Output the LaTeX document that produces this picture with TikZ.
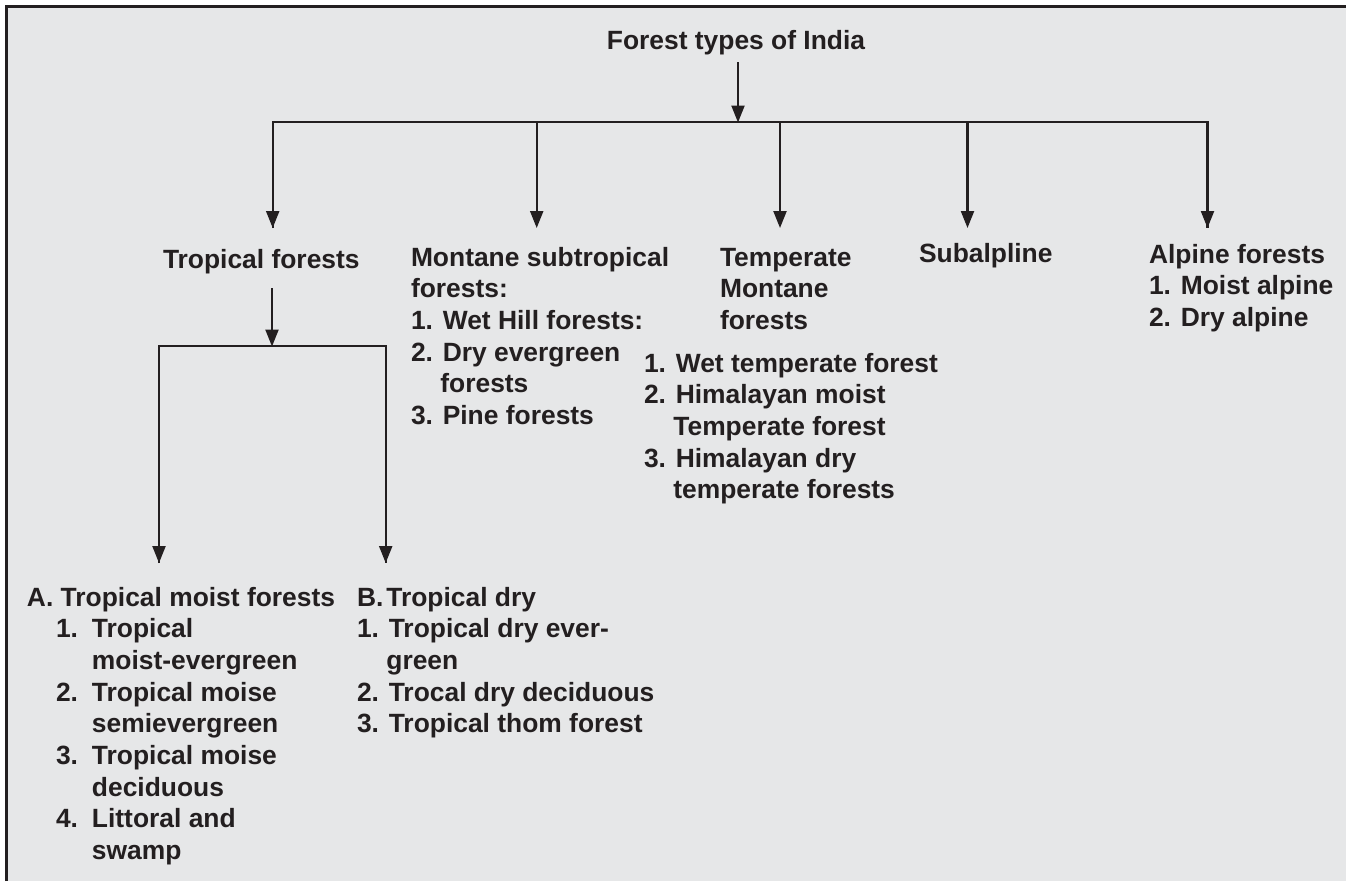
\documentclass[tikz,border=0pt]{standalone}
\usepackage{fontspec}
\setmainfont{Liberation Sans}
\usetikzlibrary{arrows.meta}
\definecolor{ink}{HTML}{231F20}
\definecolor{bg}{HTML}{E6E7E8}
\tikzset{
  lbl/.style={anchor=base west, inner sep=0pt, outer sep=0pt, text=ink,
    font=\fontsize{26.4}{31.7}\selectfont\bfseries},
  conn/.style={draw=ink, line width=2.2pt},
  arr/.style={conn, -{Triangle[length=17pt,width=13pt]}},
  frame/.style={draw=ink, line width=2.6pt, line join=miter}
}
\newcommand{\blk}[1]{\begin{tabular}[t]{@{}l@{}}#1\end{tabular}}
\begin{document}
\begin{tikzpicture}[x=1pt,y=-1pt]
\useasboundingbox (0,0) rectangle (1346,881);
\fill[white] (0,0) rectangle (1346,881);
\fill[bg] (6.3,6.3) rectangle (1346,881);
\draw[frame] (6.3,881) -- (6.3,6.3) -- (1346,6.3);

% texts
\node[lbl, anchor=base] (title) at (736,49) {Forest types of India};
\node[lbl] (trop) at (163,268) {Tropical forests};
\node[lbl] (mont) at (411,266) {\blk{Montane subtropical\\ forests:\\ 1. Wet Hill forests:\\ 2. Dry evergreen\\ \hspace*{29.4pt}forests\\ 3. Pine forests}};
\node[lbl] (temp) at (720,266) {\blk{Temperate\\ Montane\\ forests}};
\node[lbl] (templist) at (644,372) {\blk{1. Wet temperate forest\\ 2. Himalayan moist\\ \hspace*{29.4pt}Temperate forest\\ 3. Himalayan dry\\ \hspace*{29.4pt}temperate forests}};
\node[lbl] (sub) at (919,262) {Subalpline};
\node[lbl] (alp) at (1149,263) {\blk{Alpine forests\\ 1. Moist alpine\\ 2. Dry alpine}};
\node[lbl] (moist) at (27,606) {\blk{A. Tropical moist forests\\
  \hspace*{29pt}\makebox[36pt][l]{1.}Tropical\\
  \hspace*{65pt}moist-evergreen\\
  \hspace*{29pt}\makebox[36pt][l]{2.}Tropical moise\\
  \hspace*{65pt}semievergreen\\
  \hspace*{29pt}\makebox[36pt][l]{3.}Tropical moise\\
  \hspace*{65pt}deciduous\\
  \hspace*{29pt}\makebox[36pt][l]{4.}Littoral and\\
  \hspace*{65pt}swamp}};
\node[lbl] (dry) at (357,606) {\blk{\makebox[29.4pt][l]{B.}Tropical dry\\
  1. Tropical dry ever-\\
  \hspace*{29.4pt}green\\
  2. Trocal dry deciduous\\
  3. Tropical thom forest}};

% connector points
\coordinate (t0) at (738,62);
\coordinate (bar) at (738,122.5);
\coordinate (bL) at (272.7,122);
\coordinate (bR) at (1207.5,122);
\coordinate (a1) at (272.7,228);
\coordinate (b2) at (536.7,122);
\coordinate (a2) at (536.7,228);
\coordinate (b3) at (780,122);
\coordinate (a3) at (780,228);
\coordinate (b4) at (967.5,122);
\coordinate (a4) at (967.5,228);
\coordinate (a5) at (1207.5,228);
\coordinate (s0) at (272,288);
\coordinate (sbar) at (272,346.5);
\coordinate (sL) at (159,346);
\coordinate (sR) at (385.7,346);
\coordinate (sa1) at (159,563);
\coordinate (sa2) at (385.7,563);

% connectors
\draw[arr] (t0) -- (bar);
\draw[conn, line join=miter] (a1) -- (bL) -- (bR) -- (a5);
\draw[arr] (bL) -- (a1);
\draw[arr] (b2) -- (a2);
\draw[arr] (b3) -- (a3);
\draw[arr] (b4) -- (a4);
\draw[arr] (bR) -- (a5);
\draw[arr] (s0) -- (sbar);
\draw[conn, line join=miter] (sa1) -- (sL) -- (sR) -- (sa2);
\draw[arr] (sL) -- (sa1);
\draw[arr] (sR) -- (sa2);
\end{tikzpicture}
\end{document}
